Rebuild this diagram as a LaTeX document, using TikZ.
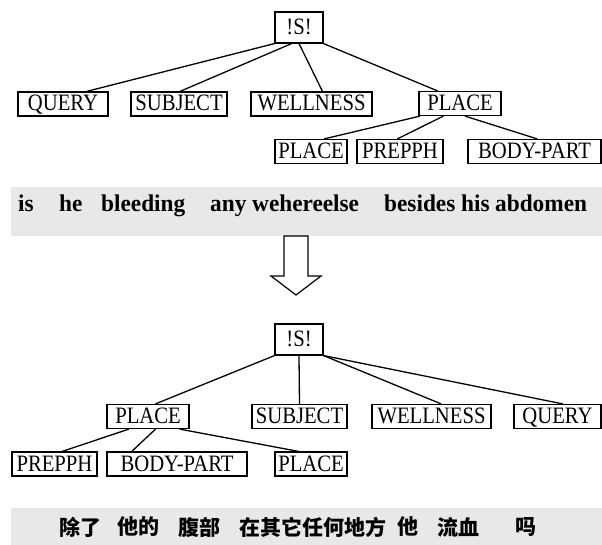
\documentclass[tikz,border=0pt]{standalone}
\usepackage{graphicx}
\usepackage{fontspec}
\setmainfont{Liberation Serif}
\newfontfamily\cjk{Noto Sans CJK SC}
\usetikzlibrary{calc}
\definecolor{bandgray}{RGB}{232,232,232}
\newcommand{\nt}[1]{\scalebox{0.88}[1]{#1}}
\newcommand{\bt}[1]{\scalebox{0.97}[1]{#1}}
\begin{document}
\begin{tikzpicture}[x=1pt,y=-1pt,
  box/.style={draw, line width=1.2pt, font=\fontsize{23.5}{23.5}\selectfont,
    inner xsep=0pt, inner ysep=0pt, text height=16pt, text depth=2pt, minimum height=24pt},
  link/.style={line width=1.3pt},
  word/.style={font=\fontsize{24}{24}\selectfont\bfseries, anchor=base west, inner sep=0pt},
  cword/.style={font=\fontsize{21}{21}\selectfont\cjk\bfseries, anchor=west, inner sep=0pt}]
\useasboundingbox (0,0) rectangle (602,545);

% ---------- top tree ----------
\node[box, minimum width=48pt, minimum height=31pt] (s1) at (299,27.5) {\nt{!S!}};
\node[box, minimum width=90pt]  (q1) at (63,104)    {\nt{QUERY}};
\node[box, minimum width=96pt]  (sb1) at (179,104)  {\nt{SUBJECT}};
\node[box, minimum width=121pt] (w1) at (311.5,104) {\nt{WELLNESS}};
\node[box, minimum width=82pt]  (p1) at (460,103.5) {\nt{PLACE}};
\node[box, minimum width=72pt]  (pp1) at (311,151.5) {\nt{PLACE}};
\node[box, minimum width=86pt]  (pr1) at (400,151.5) {\nt{PREPPH}};
\node[box, minimum width=133pt] (bp1) at (534.5,151.5) {\nt{BODY-PART}};

\draw[link] (s1.south west) -- ($(q1.north west)!.76!(q1.north east)$);
\draw[link] ($(s1.south west)!.35!(s1.south east)$) -- ($(sb1.north west)!.51!(sb1.north east)$);
\draw[link] (s1.south) -- ($(w1.north west)!.59!(w1.north east)$);
\draw[link] (s1.south east) -- ($(p1.north west)!.23!(p1.north east)$);
\draw[link] ($(p1.south west)!.02!(p1.south east)$) -- ($(pp1.north west)!.68!(pp1.north east)$);
\draw[link] ($(p1.south west)!.30!(p1.south east)$) -- ($(pr1.north west)!.47!(pr1.north east)$);
\draw[link] ($(p1.south west)!.56!(p1.south east)$) -- ($(bp1.north west)!.52!(bp1.north east)$);

% ---------- English sentence ----------
\fill[bandgray] (11,187) rectangle (602,236);
\node[word] (e1) at (18,212)  {\bt{is}};
\node[word] (e2) at (59,212)  {\bt{he}};
\node[word] (e3) at (101,212) {\bt{bleeding}};
\node[word] (e4) at (210,212) {\bt{any}};
\node[word] (e5) at (252,212) {\bt{wehereelse}};
\node[word] (e6) at (384,212) {\bt{besides}};
\node[word] (e7) at (461,212) {\bt{his}};
\node[word] (e8) at (495,212) {\bt{abdomen}};

% ---------- arrow ----------
\draw[line width=1.2pt, line join=miter] (284,236) -- (284,276) -- (271,276) -- (296,295)
  -- (321,276) -- (308,276) -- (308,236) -- cycle;

% ---------- bottom tree ----------
\node[box, minimum width=48pt, minimum height=31pt] (s2) at (299,339.5) {\nt{!S!}};
\node[box, minimum width=82pt]  (p2) at (148,416.5)  {\nt{PLACE}};
\node[box, minimum width=95pt]  (sb2) at (299.5,416.5) {\nt{SUBJECT}};
\node[box, minimum width=119pt] (w2) at (431.5,416.5) {\nt{WELLNESS}};
\node[box, minimum width=87pt]  (q2) at (557.5,416.5) {\nt{QUERY}};
\node[box, minimum width=85pt]  (pr2) at (54.5,464)  {\nt{PREPPH}};
\node[box, minimum width=140pt] (bp2) at (177,464)   {\nt{BODY-PART}};
\node[box, minimum width=72pt]  (pp2) at (311,464)   {\nt{PLACE}};

\draw[link] (s2.south west) -- ($(p2.north west)!.59!(p2.north east)$);
\draw[link] (s2.south) -- (sb2.north);
\draw[link] (s2.south east) -- ($(w2.north west)!.58!(w2.north east)$);
\draw[link] (s2.south east) -- ($(q2.north west)!.56!(q2.north east)$);
\draw[link] ($(p2.south west)!.27!(p2.south east)$) -- ($(pr2.north west)!.59!(pr2.north east)$);
\draw[link] ($(p2.south west)!.59!(p2.south east)$) -- ($(bp2.north west)!.18!(bp2.north east)$);
\draw[link] ($(p2.south west)!.88!(p2.south east)$) -- ($(pp2.north west)!.33!(pp2.north east)$);

% ---------- Chinese sentence ----------
\fill[bandgray] (11,508) rectangle (602,545);
\node[cword] (c1) at (59,527)  {除了};
\node[cword] (c2) at (117,527) {他的};
\node[cword] (c3) at (178,527) {腹部};
\node[cword] (c4) at (239,527) {在其它任何地方};
\node[cword] (c5) at (397,527) {他};
\node[cword] (c6) at (437,527) {流血};
\node[cword] (c7) at (515,527) {吗};
\end{tikzpicture}
\end{document}
